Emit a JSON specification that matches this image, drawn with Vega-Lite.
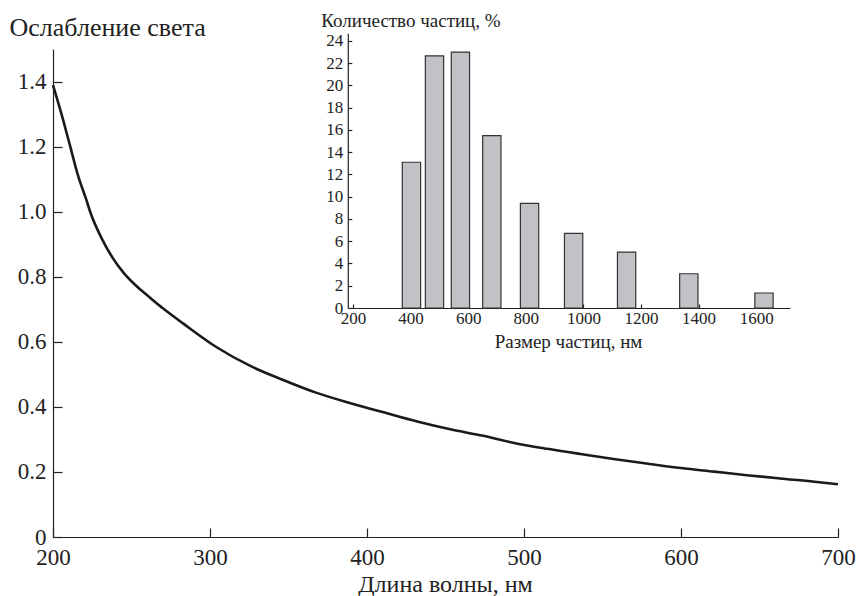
{
  "$schema": "https://vega.github.io/schema/vega-lite/v6.json",
  "autosize": {"type": "none"},
  "padding": {"left": 53, "top": 49, "right": 19, "bottom": 59},
  "width": 785,
  "height": 488,
  "background": "white",
  "config": {
    "view": {"stroke": null},
    "axis": {
      "grid": false,
      "domainColor": "#222",
      "domainWidth": 1.2,
      "tickColor": "#222",
      "tickWidth": 1.2,
      "labelColor": "#222",
      "titleColor": "#222",
      "labelFont": "Liberation Serif",
      "titleFont": "Liberation Serif",
      "titleFontWeight": "normal",
      "labelOverlap": false,
      "labelFlush": false
    }
  },
  "datasets": {
    "curve": [
      {"wl": 200, "v": 1.389}, {"wl": 206, "v": 1.29}, {"wl": 211, "v": 1.2},
      {"wl": 216, "v": 1.11}, {"wl": 221, "v": 1.04}, {"wl": 224, "v": 0.995},
      {"wl": 231, "v": 0.918}, {"wl": 238, "v": 0.858}, {"wl": 245, "v": 0.812},
      {"wl": 256, "v": 0.759}, {"wl": 262, "v": 0.735}, {"wl": 270, "v": 0.703},
      {"wl": 283, "v": 0.656}, {"wl": 304, "v": 0.584}, {"wl": 326, "v": 0.525},
      {"wl": 347, "v": 0.482}, {"wl": 368, "v": 0.443}, {"wl": 389, "v": 0.412},
      {"wl": 410, "v": 0.384}, {"wl": 432, "v": 0.355}, {"wl": 453, "v": 0.331},
      {"wl": 474, "v": 0.311}, {"wl": 493, "v": 0.29}, {"wl": 515, "v": 0.271},
      {"wl": 536, "v": 0.255}, {"wl": 557, "v": 0.24}, {"wl": 578, "v": 0.226},
      {"wl": 600, "v": 0.212}, {"wl": 621, "v": 0.201}, {"wl": 642, "v": 0.19},
      {"wl": 663, "v": 0.18}, {"wl": 685, "v": 0.17}, {"wl": 700, "v": 0.162}
    ],
    "bars": [
      {"size": 403, "pct": 13.1}, {"size": 483, "pct": 22.67}, {"size": 573, "pct": 23.0},
      {"size": 682, "pct": 15.5}, {"size": 813, "pct": 9.4}, {"size": 966, "pct": 6.7},
      {"size": 1150, "pct": 5.03}, {"size": 1366, "pct": 3.08}, {"size": 1627, "pct": 1.35}
    ]
  },
  "layer": [
    {
      "data": {"name": "curve"},
      "mark": {"type": "line", "color": "#1a1a1a", "strokeWidth": 2.6, "interpolate": "monotone"},
      "encoding": {
        "x": {
          "field": "wl", "type": "quantitative",
          "scale": {"domain": [200, 700], "nice": false, "zero": false},
          "axis": {
            "orient": "bottom",
            "values": [200, 300, 400, 500, 600, 700],
            "format": "d",
            "tickSize": -9,
            "labelPadding": 18,
            "labelFontSize": 23,
            "title": "Длина волны, нм",
            "titleFontSize": 24,
            "titleX": 392,
            "titleY": 54,
            "titleAlign": "center",
            "titleBaseline": "alphabetic",
            "titleAnchor": null
          }
        },
        "y": {
          "field": "v", "type": "quantitative",
          "scale": {"domain": [0, 1.5], "nice": false},
          "axis": {
            "orient": "left",
            "values": [0, 0.2, 0.4, 0.6, 0.8, 1.0, 1.2, 1.4],
            "labelExpr": "datum.value == 0 ? '0' : format(datum.value, '.1f')",
            "tickSize": -9,
            "labelPadding": 16,
            "labelFontSize": 23,
            "title": "Ослабление света",
            "titleFontSize": 26,
            "titleAngle": 0,
            "titleX": -44,
            "titleY": -14,
            "titleAlign": "left",
            "titleBaseline": "alphabetic",
            "titleAnchor": null
          }
        }
      }
    },
    {
      "data": {"name": "bars"},
      "mark": {"type": "bar", "width": 18.3, "fill": "#c1c2c5", "stroke": "#333", "strokeWidth": 1.2},
      "encoding": {
        "x": {
          "field": "size", "type": "quantitative",
          "scale": {"domain": [200, 1700], "range": [295, 737], "nice": false, "zero": false},
          "axis": {
            "orient": "bottom",
            "offset": -229,
            "values": [200, 400, 600, 800, 1000, 1200, 1400, 1600],
            "format": "d",
            "tickSize": -4,
            "labelPadding": 6,
            "labelFontSize": 17,
            "title": "Размер частиц, нм",
            "titleFontSize": 19,
            "titleX": 515,
            "titleY": 39,
            "titleAlign": "center",
            "titleBaseline": "alphabetic",
            "titleAnchor": null
          }
        },
        "y": {
          "field": "pct", "type": "quantitative",
          "scale": {"domain": [0, 24.7], "range": [259, -15.8], "nice": false, "zero": true},
          "axis": {
            "orient": "left",
            "offset": -294.8,
            "values": [0, 2, 4, 6, 8, 10, 12, 14, 16, 18, 20, 22, 24],
            "format": "d",
            "tickSize": -4,
            "labelPadding": 9,
            "labelFontSize": 17,
            "title": "Количество частиц, %",
            "titleFontSize": 19,
            "titleAngle": 0,
            "titleX": -27,
            "titleY": -23,
            "titleAlign": "left",
            "titleBaseline": "alphabetic",
            "titleAnchor": null
          }
        }
      }
    }
  ],
  "resolve": {
    "scale": {"x": "independent", "y": "independent"},
    "axis": {"x": "independent", "y": "independent"}
  }
}
